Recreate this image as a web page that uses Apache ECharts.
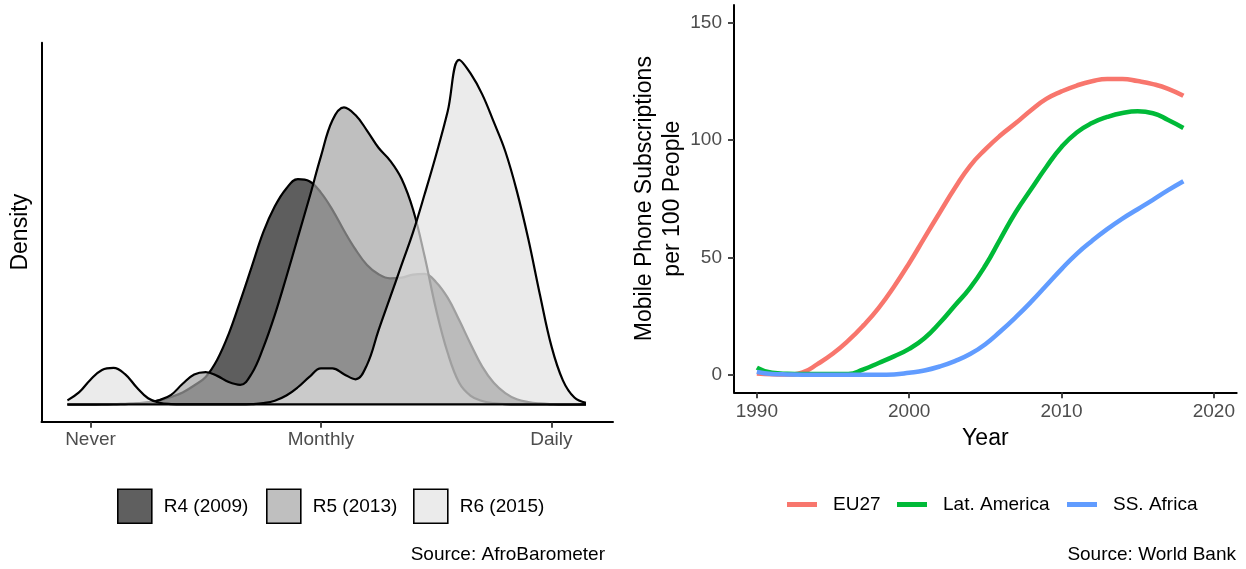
<!DOCTYPE html>
<html>
<head>
<meta charset="utf-8">
<script src="https://cdn.jsdelivr.net/npm/echarts@6/dist/echarts.min.js"></script>
<style>
html,body{margin:0;padding:0;background:#fff;}
#chart{width:1246px;height:569px;}
</style>
</head>
<body>
<div id="chart"></div>
<script>
// ---------- Left panel: AfroBarometer internet-use densities ----------
// x: 0 = Never, 2 = Monthly, 4 = Daily ; y: density (relative units)
const densityTickValues = [0, 2, 4];
const densityTickLabels = ['Never', 'Monthly', 'Daily'];
const densityNames = ['R4 (2009)', 'R5 (2013)', 'R6 (2015)'];
const densityX = [-0.2,-0.1,0.0,0.1,0.2,0.3,0.4,0.5,0.6,0.7,0.8,0.9,1.0,1.1,1.2,1.3,1.4,1.5,1.6,1.7,1.8,1.9,2.0,2.1,2.2,2.3,2.4,2.5,2.6,2.7,2.8,2.9,3.0,3.1,3.2,3.3,3.4,3.5,3.6,3.7,3.8,3.9,4.0,4.1,4.2,4.3];
const r4Density = [0,0,0,0.001,0.001,0.002,0.003,0.006,0.012,0.022,0.035,0.055,0.08,0.13,0.205,0.3,0.4,0.5,0.575,0.627,0.654,0.648,0.615,0.565,0.505,0.45,0.405,0.378,0.366,0.368,0.377,0.379,0.355,0.31,0.245,0.175,0.11,0.063,0.033,0.015,0.007,0.003,0.001,0,0,0];
const r5Density = [0,0,0,0,0.001,0.001,0.003,0.006,0.013,0.028,0.06,0.087,0.094,0.083,0.065,0.057,0.09,0.165,0.26,0.37,0.485,0.6,0.72,0.825,0.862,0.84,0.795,0.745,0.708,0.655,0.565,0.43,0.275,0.15,0.063,0.025,0.01,0.004,0.001,0,0,0,0,0,0,0];
const r6Density = [0.012,0.035,0.072,0.1,0.106,0.088,0.05,0.018,0.005,0.001,0,0,0,0,0,0,0.001,0.004,0.011,0.026,0.05,0.08,0.105,0.105,0.088,0.073,0.115,0.215,0.31,0.405,0.5,0.61,0.725,0.85,1.0,0.96,0.9,0.82,0.735,0.62,0.48,0.32,0.17,0.07,0.02,0.005];

// ---------- Right panel: World Bank mobile subscriptions ----------
const years = [1990,1991,1992,1993,1994,1995,1996,1997,1998,1999,2000,2001,2002,2003,2004,2005,2006,2007,2008,2009,2010,2011,2012,2013,2014,2015,2016,2017,2018];
const eu27 = [0.5,0.2,0.1,1.0,4.6,9,14.5,21,28.5,37.5,47.5,58.3,69,79.5,89,96,102,107.2,112.7,117.5,120.7,123.2,125,126,126,125.1,123.8,121.8,118.8];
const latAmerica = [3,0.8,0.4,0.3,0.3,0.3,0.3,2.3,5,7.8,11,15.5,22,29.5,37,46.5,58,69.3,79,88.5,97,103.2,107.2,109.8,111.5,112.2,111.4,108.5,105.1];
const ssAfrica = [1.2,0.3,0.1,0,0,0,0,0,0,0.1,0.8,1.8,3.5,5.8,8.8,13,18.5,24.5,31,38,45,51.5,57,62,66.5,70.5,74.5,78.6,82.4];
const regionNames = ['EU27', 'Lat. America', 'SS. Africa'];
const yearTicks = [1990, 2000, 2010, 2020];
const subsTicks = [0, 50, 100, 150];

// ---------- styling ----------
const FONT = '"Liberation Sans", Arial, Helvetica, sans-serif';
const densityFill = ['rgb(26,26,26)', 'rgb(164,164,164)', 'rgb(226,226,226)'];
const densityKey = ['#5f5f5f', '#bfbfbf', '#ebebeb'];
const regionColors = ['#F8766D', '#00BA38', '#619CFF'];
const tickLabelStyle = {fontSize: 19, color: '#4d4d4d', fontFamily: FONT};
const axisLineStyle = {color: '#000', width: 2};
const axisTickStyle = {color: '#333', width: 1.8};
const titleStyle = {fontSize: 23, color: '#000', fontFamily: FONT};

const densities = [r4Density, r5Density, r6Density];
const densitySeries = densities.map((d, i) => ({
  type: 'line', name: densityNames[i], xAxisIndex: 0, yAxisIndex: 0,
  data: densityX.map((x, k) => [x, d[k]]), smooth: 0.4, symbol: 'none', silent: true,
  lineStyle: {color: '#000', width: 2.2},
  itemStyle: {color: densityKey[i]},
  areaStyle: {color: densityFill[i], opacity: 0.7},
  z: 2 + i
}));
const xStart = densityX[0], xEnd = densityX[densityX.length - 1];
densitySeries.push({
  type: 'line', name: 'baseline', xAxisIndex: 0, yAxisIndex: 0,
  data: [[xStart, 0], [xEnd, 0]], symbol: 'none', silent: true,
  lineStyle: {color: '#000', width: 2.2}, z: 6
});

const regionData = [eu27, latAmerica, ssAfrica];
const lineSeries = regionData.map((vals, i) => ({
  type: 'line', name: regionNames[i], xAxisIndex: 1, yAxisIndex: 1,
  data: years.map((y, k) => [y, vals[k]]), smooth: 0.5, symbol: 'none', silent: true,
  lineStyle: {color: regionColors[i], width: 4.5},
  itemStyle: {color: regionColors[i]}, z: 2 + i
}));

const densityLegendLeft = [117, 266, 413];
const regionLegendLeft = [787, 897, 1067];

const legends = [];
densityNames.forEach((n, i) => legends.push({
  left: densityLegendLeft[i], top: 488.5, padding: 0, icon: 'rect',
  itemWidth: 34, itemHeight: 34, selectedMode: false,
  data: [{name: n, itemStyle: {color: densityKey[i], borderColor: '#000', borderWidth: 1.6}}],
  textStyle: {fontSize: 19, color: '#000', fontFamily: FONT, padding: [0, 0, 0, 7]}
}));
regionNames.forEach((n, i) => legends.push({
  left: regionLegendLeft[i], top: 495, padding: 0, icon: 'rect',
  itemWidth: 30, itemHeight: 5, selectedMode: false,
  data: [{name: n, itemStyle: {color: regionColors[i], borderWidth: 0}}],
  textStyle: {fontSize: 19, color: '#000', fontFamily: FONT, padding: [0, 0, 0, 11]}
}));

const chart = echarts.init(document.getElementById('chart'), null, {renderer: 'canvas'});
chart.setOption({
  animation: false,
  backgroundColor: '#fff',
  title: [
    {text: 'Source: AfroBarometer', right: 641, top: 545, padding: 0,
     textStyle: {fontSize: 19, fontWeight: 'normal', color: '#000', fontFamily: FONT}},
    {text: 'Source: World Bank', right: 10, top: 545, padding: 0,
     textStyle: {fontSize: 19, fontWeight: 'normal', color: '#000', fontFamily: FONT}}
  ],
  legend: legends,
  grid: [
    {left: 41.5, top: 42.7, width: 571.5, height: 379},
    {left: 734, top: 5, width: 502.7, height: 387.3}
  ],
  xAxis: [
    {type: 'value', gridIndex: 0, min: -0.425, max: 4.535,
     axisLine: {show: true, onZero: false, lineStyle: axisLineStyle},
     axisTick: {show: true, length: 6, lineStyle: axisTickStyle, customValues: densityTickValues},
     axisLabel: Object.assign({margin: 9, customValues: densityTickValues,
       formatter: v => densityTickLabels[densityTickValues.indexOf(v)]}, tickLabelStyle),
     splitLine: {show: false}},
    {type: 'value', gridIndex: 1, min: 1988.5, max: 2021.5,
     name: 'Year', nameLocation: 'middle', nameGap: 35, nameTextStyle: titleStyle,
     axisLine: {show: true, onZero: false, lineStyle: axisLineStyle},
     axisTick: {show: true, length: 6, lineStyle: axisTickStyle, customValues: yearTicks},
     axisLabel: Object.assign({margin: 10, customValues: yearTicks, formatter: v => String(v)}, tickLabelStyle),
     splitLine: {show: false}}
  ],
  yAxis: [
    {type: 'value', gridIndex: 0, min: -0.05, max: 1.05,
     name: 'Density', nameLocation: 'middle', nameGap: 9, nameTextStyle: titleStyle,
     axisLine: {show: true, onZero: false, lineStyle: axisLineStyle},
     axisTick: {show: false}, axisLabel: {show: false}, splitLine: {show: false}},
    {type: 'value', gridIndex: 1, min: -7.5, max: 157.5,
     name: 'Mobile Phone Subscriptions\nper 100 People', nameLocation: 'middle', nameGap: 42,
     nameTextStyle: Object.assign({lineHeight: 28, align: 'center'}, titleStyle),
     axisLine: {show: true, onZero: false, lineStyle: axisLineStyle},
     axisTick: {show: true, length: 6, lineStyle: axisTickStyle, customValues: subsTicks},
     axisLabel: Object.assign({margin: 12, customValues: subsTicks, formatter: v => String(v)}, tickLabelStyle),
     splitLine: {show: false}}
  ],
  series: densitySeries.concat(lineSeries)
});
</script>
</body>
</html>
